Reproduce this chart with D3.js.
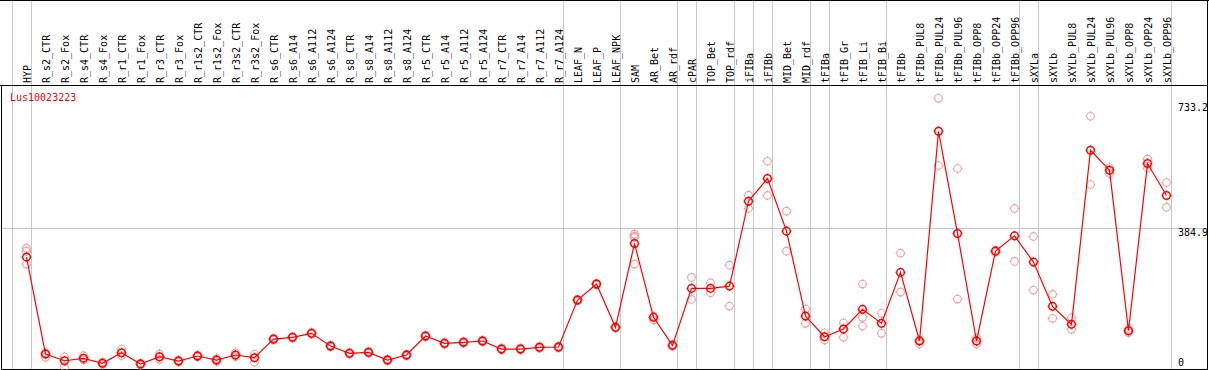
<!DOCTYPE html>
<html>
<head>
<meta charset="utf-8">
<script src="https://cdn.jsdelivr.net/npm/d3@7"></script>
<style>
  html, body { margin: 0; padding: 0; background: #fff; }
  svg { display: block; }
  text { font-family: "DejaVu Sans Mono", monospace; font-size: 10px; }
</style>
</head>
<body>
<svg id="chart"></svg>
<script>
// gene name shown in the corner
const geneName = "Lus10023223";

// sample names, left to right
const categories = [
  "HYP", "R_s2_CTR", "R_s2_Fox", "R_s4_CTR", "R_s4_Fox", "R_r1_CTR", "R_r1_Fox",
  "R_r3_CTR", "R_r3_Fox", "R_r1s2_CTR", "R_r1s2_Fox", "R_r3s2_CTR", "R_r3s2_Fox",
  "R_s6_CTR", "R_s6_A14", "R_s6_A112", "R_s6_A124", "R_s8_CTR", "R_s8_A14", "R_s8_A112", "R_s8_A124",
  "R_r5_CTR", "R_r5_A14", "R_r5_A112", "R_r5_A124", "R_r7_CTR", "R_r7_A14", "R_r7_A112", "R_r7_A124",
  "LEAF_N", "LEAF_P", "LEAF_NPK", "SAM", "AR_Bet", "AR_rdf", "cPAR", "TOP_Bet", "TOP_rdf",
  "iFIBa", "iFIBb", "MID_Bet", "MID_rdf", "tFIBa", "tFIB_Gr", "tFIB_Li", "tFIB_Bi",
  "tFIBb", "tFIBb_PUL8", "tFIBb_PUL24", "tFIBb_PUL96", "tFIBb_OPP8", "tFIBb_OPP24", "tFIBb_OPP96",
  "sXYLa", "sXYLb", "sXYLb_PUL8", "sXYLb_PUL24", "sXYLb_PUL96", "sXYLb_OPP8", "sXYLb_OPP24", "sXYLb_OPP96"
];

// last sample of each group (a grey separator follows it)
const groupEnds = ["HYP", "R_r7_A124", "LEAF_NPK", "AR_rdf", "cPAR", "TOP_rdf", "iFIBa", "iFIBb",
  "MID_rdf", "tFIBa", "tFIB_Bi", "tFIBb_OPP96", "sXYLa", "sXYLb_OPP96"];

// mean expression per sample
const means = [
  307.7, 48.2, 30.2, 36.7, 23.3, 51.6, 21.4, 40.9, 29.4, 42.8, 32.1, 45.5, 38.3,
  88.3, 92.9, 103.6, 69.6, 50.0, 52.7, 32.1, 45.5,
  96.3, 76.8, 79.5, 83.0, 61.5, 61.5, 66.1, 66.9,
  192.7, 235.5, 119.6, 344.4, 146.4, 71.4, 224.0, 224.0, 230.1,
  457.6, 518.3, 377.3, 149.9, 94.5, 115.1, 167.8, 130.3,
  266.8, 83.0, 644.9, 371.2, 83.0, 323.8, 364.7,
  294.4, 175.8, 127.6, 594.1, 540.6, 110.5, 558.5, 472.9
];

// individual replicates per sample
const replicates = [
  [331.8, 323.8, 289.0], [51.6, 39.3], [40.9, 14.2], [43.6, 32.1], [26.8, 20.1], [61.5, 43.6], [24.1, 18.7],
  [48.2, 34.0], [32.1, 26.8], [45.5, 40.1], [36.1, 28.1], [51.6, 40.9], [47.4, 26.0],
  [90.5, 86.0], [95.0, 90.8], [106.0, 101.2], [72.0, 67.1], [52.5, 47.6], [55.1, 50.3], [34.6, 29.8], [47.9, 43.0],
  [98.7, 93.9], [79.1, 74.4], [82.0, 77.0], [85.4, 80.6], [63.9, 59.1], [63.8, 59.2], [68.5, 63.7], [69.2, 64.6],
  [195.0, 190.4], [237.8, 233.2], [121.9, 117.3], [369.3, 363.9, 360.5, 289.0], [149.9, 139.2], [73.8, 69.0],
  [253.4, 194.5], [239.0, 212.2], [286.3, 176.6],
  [473.7, 438.1], [564.6, 472.9], [430.8, 323.8], [168.6, 130.3], [105.2, 85.6], [131.9, 92.9],
  [235.5, 146.4, 123.1], [157.1, 103.6],
  [318.4, 214.1], [86.0, 74.9], [733.2, 553.1], [545.1, 195.3], [90.2, 74.9], [326.5, 321.1], [438.1, 296.2],
  [363.1, 219.4], [207.9, 143.7], [145.3, 114.3], [685.1, 502.3], [547.8, 531.7], [115.8, 105.2],
  [570.8, 545.9], [507.6, 441.5]
];

// values written on the right axis
const tickValues = [733.2, 384.9, 0];

const width = 1209;
const height = 370;
const headerBottom = 85.5;
const plotRight = 1207.5;

const svg = d3.select("#chart")
  .attr("width", width)
  .attr("height", height);

const x = d3.scalePoint()
  .domain(categories)
  .range([26.5, 1166.5]);

const y = d3.scaleLinear()
  .domain([0, 733.2])
  .range([372, 98.3]);

const step = x.step();
const RED = "#ff0000";
const PINK = "#f0a0a0";
const GRID = "#c8c8c8";

// grey separators between sample groups (and one before the first)
const sepX = [x(categories[0]) - step + 4].concat(groupEnds.map(c => x(c) + 4));
svg.append("g")
  .selectAll("line")
  .data(sepX)
  .enter()
  .append("line")
  .attr("x1", d => Math.round(d) + 0.5)
  .attr("x2", d => Math.round(d) + 0.5)
  .attr("y1", 0)
  .attr("y2", height)
  .attr("stroke", GRID);

// horizontal grid at the middle tick
svg.append("line")
  .attr("x1", 1)
  .attr("x2", plotRight)
  .attr("y1", Math.round(y(384.9)) + 0.5)
  .attr("y2", Math.round(y(384.9)) + 0.5)
  .attr("stroke", GRID);

// frame
svg.append("line").attr("x1", 0).attr("x2", width).attr("y1", 0.5).attr("y2", 0.5).attr("stroke", "#000");
svg.append("line").attr("x1", 0).attr("x2", plotRight).attr("y1", headerBottom).attr("y2", headerBottom).attr("stroke", "#000");
svg.append("line").attr("x1", 1.5).attr("x2", 1.5).attr("y1", headerBottom).attr("y2", height).attr("stroke", "#000");
svg.append("line").attr("x1", plotRight).attr("x2", plotRight).attr("y1", 0).attr("y2", height).attr("stroke", "#000");
svg.append("line").attr("x1", 1).attr("x2", plotRight).attr("y1", 369.5).attr("y2", 369.5).attr("stroke", "#000");

// rotated sample names in the header
svg.append("g")
  .selectAll("text")
  .data(categories)
  .enter()
  .append("text")
  .attr("transform", d => `translate(${x(d) + 4},83) rotate(-90)`)
  .attr("fill", "#000")
  .text(d => d);

// gene name
svg.append("text")
  .attr("x", 10)
  .attr("y", 101)
  .attr("fill", RED)
  .text(geneName);

// right side value labels
const labelShift = { "733.2": 12.5, "384.9": 7.5, "0": -6.5 };
svg.append("g")
  .selectAll("text")
  .data(tickValues)
  .enter()
  .append("text")
  .attr("x", 1178)
  .attr("y", d => y(d) + labelShift[String(d)])
  .attr("fill", "#000")
  .text(d => String(d));

// marker: circle with four small ticks
const R = 3.8;
function markerPath() {
  const p = d3.path();
  p.moveTo(R, 0);
  p.arc(0, 0, R, 0, Math.PI * 2);
  p.moveTo(0, -R); p.lineTo(0, -R - 1.1);
  p.moveTo(0, R); p.lineTo(0, R + 1.1);
  p.moveTo(-R, 0); p.lineTo(-R - 1.1, 0);
  p.moveTo(R, 0); p.lineTo(R + 1.1, 0);
  return p.toString();
}

// replicates
const repPoints = [];
replicates.forEach((vals, i) => vals.forEach(v => repPoints.push({ c: categories[i], v })));

svg.append("g")
  .selectAll("path")
  .data(repPoints)
  .enter()
  .append("path")
  .attr("d", markerPath())
  .attr("transform", d => `translate(${x(d.c)},${y(d.v)})`)
  .attr("fill", "none")
  .attr("stroke", PINK)
  .attr("stroke-width", 1.1);

// mean line
const line = d3.line()
  .x((d, i) => x(categories[i]))
  .y(d => y(d));

svg.append("path")
  .datum(means)
  .attr("d", line)
  .attr("fill", "none")
  .attr("stroke", RED)
  .attr("stroke-width", 1.2);

// mean markers
svg.append("g")
  .selectAll("path")
  .data(means)
  .enter()
  .append("path")
  .attr("d", markerPath())
  .attr("transform", (d, i) => `translate(${x(categories[i])},${y(d)})`)
  .attr("fill", "none")
  .attr("stroke", RED)
  .attr("stroke-width", 1.5);
</script>
</body>
</html>
